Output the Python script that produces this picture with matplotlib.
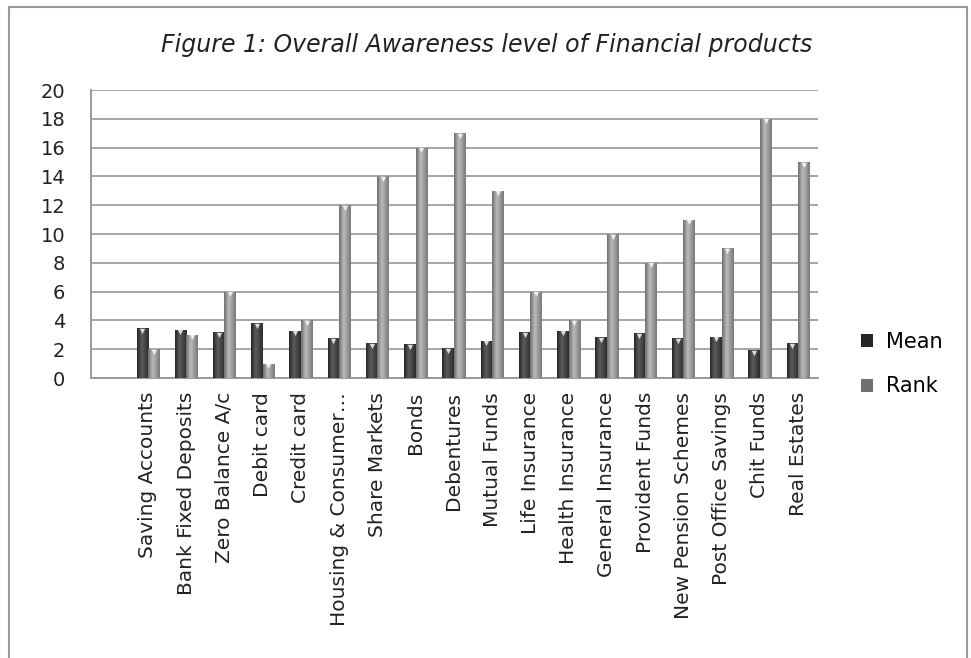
import numpy as np
import matplotlib.pyplot as plt
from matplotlib.patches import Rectangle

products = ['Saving Accounts', 'Bank Fixed Deposits', 'Zero Balance A/c', 'Debit card',
            'Credit card', 'Housing & Consumer…', 'Share Markets', 'Bonds', 'Debentures',
            'Mutual Funds', 'Life Insurance', 'Health Insurance', 'General Insurance',
            'Provident Funds', 'New Pension Schemes', 'Post Office Savings', 'Chit Funds',
            'Real Estates']
mean = [3.46, 3.36, 3.18, 3.79, 3.29, 2.75, 2.42, 2.33, 2.05,
        2.59, 3.18, 3.29, 2.82, 3.10, 2.75, 2.87, 1.95, 2.42]
rank = [2, 3, 6, 1, 4, 12, 14, 16, 17, 13, 6, 4, 10, 8, 11, 9, 18, 15]

FONT = 'DejaVu Sans'

W, H = 971, 658
fig = plt.figure(figsize=(W / 100, H / 100), dpi=100)

# outer frame
fig.add_artist(Rectangle((9 / W, -0.01), (967 - 9) / W, (H - 7) / H + 0.01,
                         transform=fig.transFigure, fill=False,
                         edgecolor='#9a9a9a', linewidth=1.5))

L, R, T, B = 91, 818, 90, 378
ax = fig.add_axes([L / W, 1 - B / H, (R - L) / W, (B - T) / H])

x = np.arange(len(products))
bw = 0.3


def gradient_bars(xs, vals, dark, light):
    bars = ax.bar(xs, vals, width=bw, color=dark, edgecolor='none', zorder=3)
    grad = np.concatenate([np.linspace(0, 1, 8), np.linspace(1, 0.15, 12)])
    cmap = plt.matplotlib.colors.LinearSegmentedColormap.from_list('g', [dark, light])
    for b in bars:
        x0, y0 = b.get_x(), b.get_y()
        w, h = b.get_width(), b.get_height()
        im = ax.imshow(grad[np.newaxis, :], cmap=cmap, aspect='auto',
                       extent=[x0, x0 + w, y0, y0 + h], zorder=3.5,
                       interpolation='bicubic')
        im.set_clip_path(b)
    # little bevel highlight on the top of each column
    ax.scatter(xs, np.array(vals) - 0.18, marker='v', s=14, color='white',
               alpha=0.8, linewidths=0, zorder=4)
    return bars


b1 = gradient_bars(x - bw / 2, mean, '#262626', '#5a5a5a')
b2 = gradient_bars(x + bw / 2, rank, '#707070', '#b8b8b8')

ax.set_xlim(-1.49, 17.52)
ax.set_ylim(0, 20)
ax.set_yticks(range(0, 21, 2))
ax.yaxis.grid(True, color='#a6a6a6', linewidth=1.4, zorder=0)
ax.set_axisbelow(True)
for s in ['top', 'right']:
    ax.spines[s].set_visible(False)
for s in ['left', 'bottom']:
    ax.spines[s].set_color('#9a9a9a')
    ax.spines[s].set_linewidth(1.4)
ax.tick_params(axis='y', length=0, pad=18.5, labelsize=14, labelcolor='#222222')
ax.tick_params(axis='x', length=0, pad=10, labelsize=14.5, labelcolor='#222222')
ax.set_xticks(x)
ax.set_xticklabels(products, rotation=90, fontfamily=FONT)
for t in ax.get_yticklabels():
    t.set_fontfamily(FONT)

fig.text(487 / W, 1 - 45 / H, 'Figure 1: Overall Awareness level of Financial products',
         ha='center', va='center', fontsize=17, style='italic', fontfamily=FONT,
         color='#222222')

ax.legend([b1[0], b2[0]], ['Mean', 'Rank'], loc='center left',
          bbox_to_anchor=(842 / W, 1 - 364 / H), bbox_transform=fig.transFigure,
          frameon=False, prop={'family': FONT, 'size': 15}, handlelength=0.6,
          handleheight=0.6, handletextpad=0.6, labelspacing=1.2)

fig.savefig('out.png', dpi=100)
